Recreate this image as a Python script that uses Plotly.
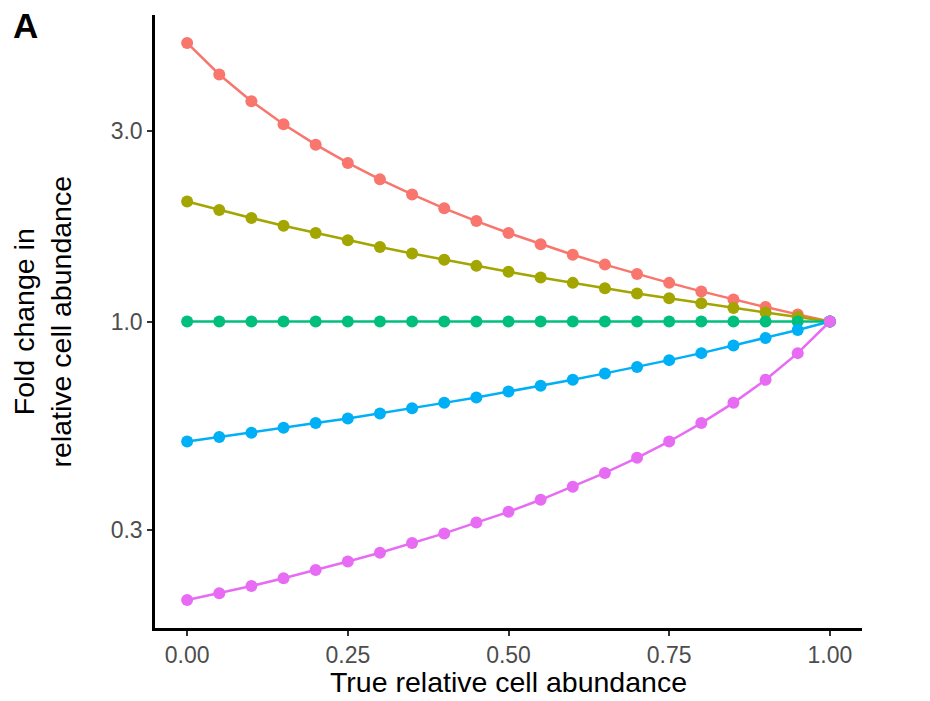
import plotly.graph_objects as go

x_vals = [0.00, 0.05, 0.10, 0.15, 0.20, 0.25, 0.30, 0.35, 0.40, 0.45, 0.50,
          0.55, 0.60, 0.65, 0.70, 0.75, 0.80, 0.85, 0.90, 0.95, 1.00]

red_vals = [5.000, 4.167, 3.571, 3.125, 2.778, 2.500, 2.273, 2.083, 1.923, 1.786, 1.667,
            1.563, 1.471, 1.389, 1.316, 1.250, 1.190, 1.136, 1.087, 1.042, 1.000]
olive_vals = [2.000, 1.905, 1.818, 1.739, 1.667, 1.600, 1.538, 1.481, 1.429, 1.379, 1.333,
              1.290, 1.250, 1.212, 1.176, 1.143, 1.111, 1.081, 1.053, 1.026, 1.000]
green_vals = [1.000, 1.000, 1.000, 1.000, 1.000, 1.000, 1.000, 1.000, 1.000, 1.000, 1.000,
              1.000, 1.000, 1.000, 1.000, 1.000, 1.000, 1.000, 1.000, 1.000, 1.000]
blue_vals = [0.500, 0.513, 0.526, 0.541, 0.556, 0.571, 0.588, 0.606, 0.625, 0.645, 0.667,
             0.690, 0.714, 0.741, 0.769, 0.800, 0.833, 0.870, 0.909, 0.952, 1.000]
magenta_vals = [0.200, 0.208, 0.217, 0.227, 0.238, 0.250, 0.263, 0.278, 0.294, 0.313, 0.333,
                0.357, 0.385, 0.417, 0.455, 0.500, 0.556, 0.625, 0.714, 0.833, 1.000]

series = [
    ("5", red_vals, "#F8766D"),
    ("2", olive_vals, "#A3A500"),
    ("1", green_vals, "#00BF7D"),
    ("0.5", blue_vals, "#00B0F6"),
    ("0.2", magenta_vals, "#E76BF3"),
]

x_tickvals = [0, 0.25, 0.5, 0.75, 1.0]
x_ticktext = ["0.00", "0.25", "0.50", "0.75", "1.00"]
y_tickvals = [0.3, 1.0, 3.0]
y_ticktext = ["0.3", "1.0", "3.0"]

FONT = "Liberation Sans, Arial, sans-serif"

fig = go.Figure()
for name, vals, col in series:
    fig.add_trace(go.Scatter(
        x=x_vals, y=vals, mode="lines+markers", name=name,
        line=dict(color=col, width=2.5),
        marker=dict(color=col, size=12),
        showlegend=False,
    ))

L, R, T, B = 155, 68, 15, 73
W, H = 930, 701
pw, ph = W - L - R, H - T - B

def px_x(p):
    return (p - L) / pw

def px_y(p):
    return (H - B - p) / ph

fig.update_layout(
    width=W, height=H,
    margin=dict(l=L, r=R, t=T, b=B, pad=0),
    plot_bgcolor="white", paper_bgcolor="white",
    font=dict(family=FONT),
    xaxis=dict(
        range=[-0.05, 1.05], tickvals=x_tickvals, ticktext=x_ticktext,
        showgrid=False, zeroline=False, showline=True, linecolor="black", linewidth=2.5,
        ticks="outside", ticklen=5, tickwidth=2, tickcolor="#333333",
        tickfont=dict(size=23, color="#4D4D4D", family=FONT),
    ),
    yaxis=dict(
        type="log", range=[-0.769, 0.769], tickvals=y_tickvals, ticktext=y_ticktext,
        showgrid=False, zeroline=False, showline=True, linecolor="black", linewidth=2.5,
        ticks="outside", ticklen=5, tickwidth=2, tickcolor="#333333",
        tickfont=dict(size=23, color="#4D4D4D", family=FONT),
    ),
    annotations=[
        dict(text="True relative cell abundance", xref="paper", yref="paper",
             x=px_x(508.5), y=px_y(682), xanchor="center", yanchor="middle",
             showarrow=False, font=dict(size=28.5, color="black", family=FONT)),
        dict(text="Fold change in<br>relative cell abundance", xref="paper", yref="paper",
             x=px_x(42), y=px_y(321.5), xanchor="center", yanchor="middle", textangle=-90,
             showarrow=False, font=dict(size=28.5, color="black", family=FONT)),
        dict(text="<b>A</b>", xref="paper", yref="paper",
             x=px_x(11), y=px_y(4), xanchor="left", yanchor="top",
             showarrow=False, font=dict(size=35, color="black", family=FONT)),
    ],
)

fig.write_html("out.html")
